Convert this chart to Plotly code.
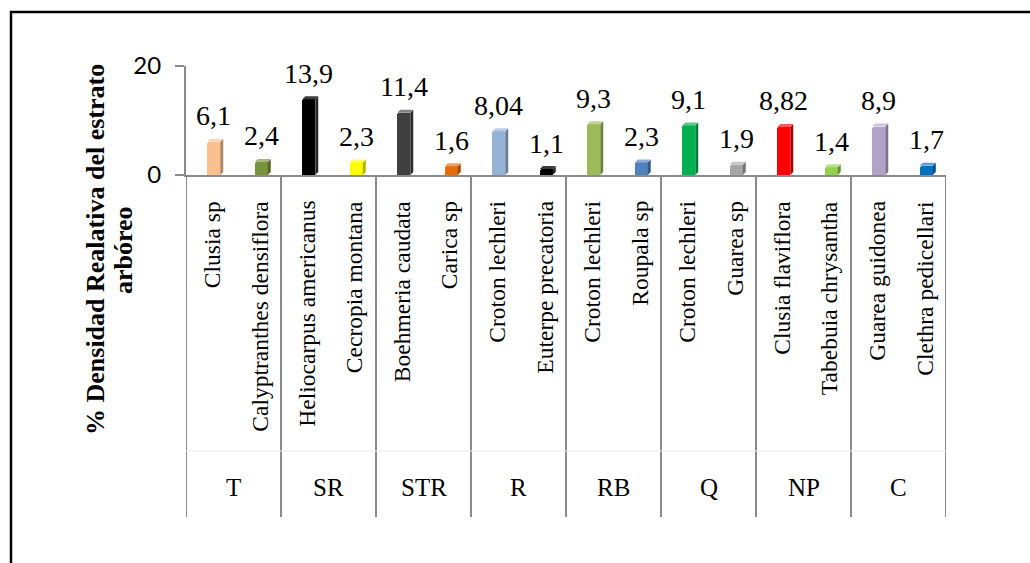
import plotly.graph_objects as go

# Sites (outer category level) and species (inner level), two species per site
groups = ["T", "SR", "STR", "R", "RB", "Q", "NP", "C"]
species = [
    "Clusia sp", "Calyptranthes densiflora",
    "Heliocarpus americanus", "Cecropia montana",
    "Boehmeria caudata", "Carica sp",
    "Croton lechleri", "Euterpe precatoria",
    "Croton lechleri", "Roupala sp",
    "Croton lechleri", "Guarea sp",
    "Clusia flaviflora", "Tabebuia chrysantha",
    "Guarea guidonea", "Clethra pedicellari",
]
density = [6.1, 2.4, 13.9, 2.3, 11.4, 1.6, 8.04, 1.1,
           9.3, 2.3, 9.1, 1.9, 8.82, 1.4, 8.9, 1.7]
y_ticks = [0, 20]

bar_colors = [
    "#FAC090", "#77933C", "#000000", "#FFFF00",
    "#404040", "#E46C0A", "#95B3D7", "#000000",
    "#9BBB59", "#4F81BD", "#00B050", "#A6A6A6",
    "#FF0000", "#92D050", "#B3A2C7", "#0070C0",
]

# ---- page geometry (pixels) ----
W, H = 1030, 563
PL, PR, PT, PB = 186, 946, 66, 175          # plot area edges
SLOT = (PR - PL) / len(species)             # px per category slot
UNIT = (PB - PT) / (y_ticks[1] - y_ticks[0])  # px per y unit

def xp(px):
    return (px - PL) / (PR - PL)

def yp(py):
    return (PB - py) / (PB - PT)

SERIF = "Liberation Serif, Times New Roman, serif"
AXIS_GREY = "#8a8a8a"

BAR_W = 13 / SLOT       # front face width (x units)
SHIFT = 4 / SLOT        # bars sit slightly right of slot centre
DX = 3 / SLOT           # depth of the 3-D faces
DY = 3 / UNIT


def shade(hex_color, f):
    h = hex_color.lstrip("#")
    r, g, b = (int(h[i:i + 2], 16) for i in (0, 2, 4))
    if f < 1:
        r, g, b = (int(c * f) for c in (r, g, b))
    else:
        t = f - 1
        r, g, b = (int(c + (255 - c) * t) for c in (r, g, b))
    return f"rgb({r},{g},{b})"


idx = list(range(len(species)))
fig = go.Figure()

fig.add_trace(go.Bar(
    x=idx, y=density,
    width=BAR_W, offset=-BAR_W / 2 + SHIFT,
    marker=dict(color=bar_colors, line=dict(width=0), cornerradius=2),
    hoverinfo="skip", showlegend=False,
))

# side and top faces giving the columns their depth
for i, v in enumerate(density):
    xl = i + SHIFT - BAR_W / 2
    xr = i + SHIFT + BAR_W / 2
    black = bar_colors[i] == "#000000"
    fig.add_trace(go.Scatter(
        x=[xr, xr + DX, xr + DX, xr, xr],
        y=[0, DY, v + DY, v, 0],
        fill="toself", mode="lines", line=dict(width=0),
        fillcolor="rgb(40,40,40)" if black else shade(bar_colors[i], 0.7),
        hoverinfo="skip", showlegend=False,
    ))
    fig.add_trace(go.Scatter(
        x=[xl, xl + DX, xr + DX, xr, xl],
        y=[v, v + DY, v + DY, v, v],
        fill="toself", mode="lines", line=dict(width=0),
        fillcolor="rgb(60,60,60)" if black else shade(bar_colors[i], 1.35),
        hoverinfo="skip", showlegend=False,
    ))

annotations = []

# value labels above each column
for i, v in enumerate(density):
    annotations.append(dict(
        x=i + SHIFT, y=v, xref="x", yref="y", yshift=26,
        text=f"{v:g}".replace(".", ","), showarrow=False,
        xanchor="center", yanchor="middle",
        font=dict(family=SERIF, size=28, color="black"),
    ))

# species names, rotated
for i, name in enumerate(species):
    annotations.append(dict(
        x=i + 0.04, y=yp(199), xref="x", yref="paper",
        text=name, textangle=-90, showarrow=False,
        xanchor="center", yanchor="top",
        font=dict(family=SERIF, size=23.5, color="black"),
    ))

# site names
for g, name in enumerate(groups):
    annotations.append(dict(
        x=2 * g + 0.5, y=yp(487), xref="x", yref="paper",
        text=name, showarrow=False,
        xanchor="center", yanchor="middle",
        font=dict(family=SERIF, size=25, color="black"),
    ))

# y-axis title (two lines)
for text, x_px in (("% Densidad Realativa del estrato", 95), ("arbóreo", 123)):
    annotations.append(dict(
        x=xp(x_px), y=yp(250), xref="paper", yref="paper",
        text=f"<b>{text}</b>", textangle=-90, showarrow=False,
        xanchor="center", yanchor="middle",
        font=dict(family=SERIF, size=26, color="black"),
    ))

shapes = []
# group dividers of the category axis
for g in range(len(groups) + 1):
    shapes.append(dict(
        type="line", xref="x", yref="paper",
        x0=2 * g - 0.5, x1=2 * g - 0.5, y0=0, y1=yp(517),
        line=dict(color=AXIS_GREY, width=2),
    ))
# faint separator between the two label rows
shapes.append(dict(
    type="line", xref="x", yref="paper",
    x0=-0.5, x1=len(species) - 0.5, y0=yp(451), y1=yp(451),
    line=dict(color="#ededed", width=1),
))
# chart frame (top and left edges)
shapes.append(dict(
    type="path", xref="paper", yref="paper",
    path=f"M {xp(11)} {yp(H + 5)} L {xp(11)} {yp(12)} L {xp(W + 5)} {yp(12)}",
    line=dict(color="black", width=2.5),
))

fig.update_layout(
    width=W, height=H,
    margin=dict(l=PL, r=W - PR, t=PT, b=H - PB, pad=0),
    paper_bgcolor="white", plot_bgcolor="white",
    showlegend=False,
    bargap=0,
    annotations=annotations,
    shapes=shapes,
    xaxis=dict(
        range=[-0.5, len(species) - 0.5],
        showticklabels=False, ticks="", showgrid=False, zeroline=False,
        showline=True, linecolor=AXIS_GREY, linewidth=2,
        fixedrange=True,
    ),
    yaxis=dict(
        range=[y_ticks[0], y_ticks[1]], tickvals=y_ticks,
        ticks="outside", ticklen=9, tickwidth=2, tickcolor=AXIS_GREY,
        ticklabelstandoff=9,
        tickfont=dict(family="Lato, Carlito, sans-serif", size=24, color="black"),
        showgrid=False, zeroline=False,
        showline=True, linecolor=AXIS_GREY, linewidth=2,
        fixedrange=True,
    ),
)

fig.write_html("out.html")
